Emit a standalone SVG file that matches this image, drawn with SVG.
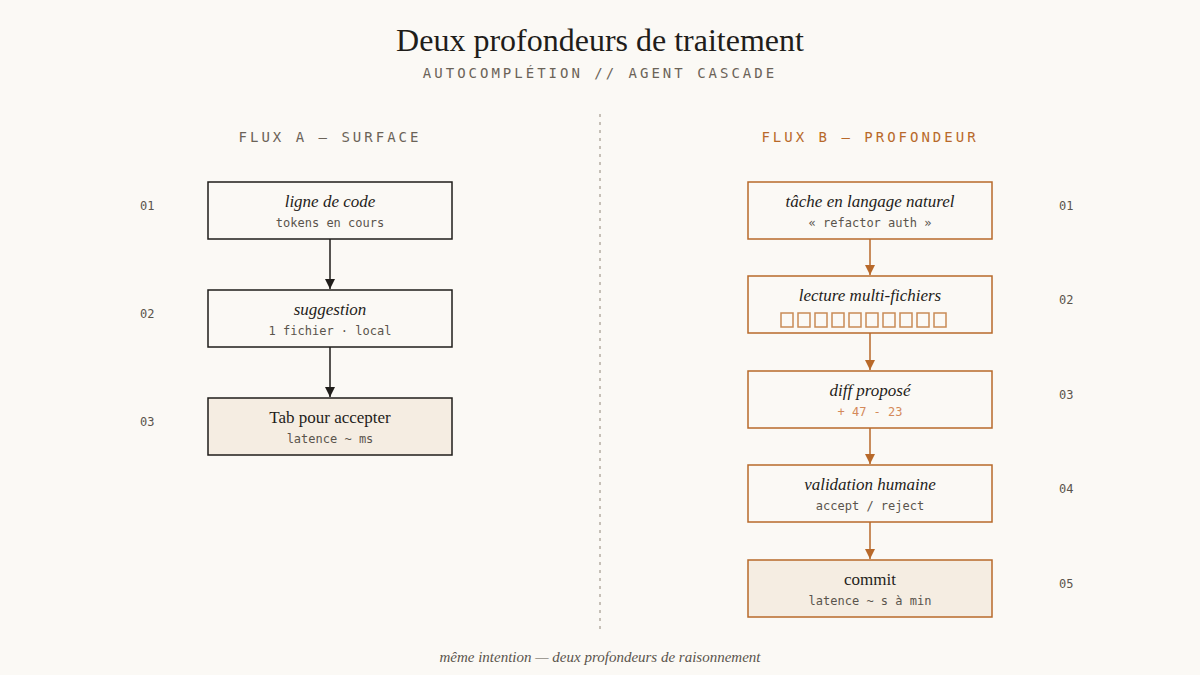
<svg xmlns="http://www.w3.org/2000/svg" width="1200" height="675" viewBox="0 0 1200 675">
<defs>
<marker id="ak" viewBox="0 0 10 10" refX="10" refY="5" markerWidth="10" markerHeight="10" markerUnits="userSpaceOnUse" orient="auto"><path d="M0,0L10,5L0,10z" fill="#1f1d1a"/></marker>
<marker id="ao" viewBox="0 0 10 10" refX="10" refY="5" markerWidth="10" markerHeight="10" markerUnits="userSpaceOnUse" orient="auto"><path d="M0,0L10,5L0,10z" fill="#b8692a"/></marker>
<style>
.t{font-family:"Liberation Serif",serif;fill:#1f1d1a}
.m{font-family:"DejaVu Sans Mono","Liberation Mono",monospace;font-size:12px;fill:#5a544c}
.h{font-family:"DejaVu Sans Mono","Liberation Mono",monospace;font-size:14px;letter-spacing:3px}
.n{font-family:"DejaVu Sans Mono","Liberation Mono",monospace;font-size:12px;fill:#5a544c}
.bk{fill:#fbf9f5;stroke:#1f1d1a;stroke-width:1.5}
.bo{fill:#fbf9f5;stroke:#b8692a;stroke-width:1.5}
.f{fill:#f5ede2}
.i{font-style:italic;font-size:17px}
</style>
</defs>
<rect width="1200" height="675" fill="#fbf9f5"/>
<text class="t" x="600" y="51" text-anchor="middle" font-size="32">Deux profondeurs de traitement</text>
<text class="h" x="600" y="78" text-anchor="middle" fill="#6b6358" font-size="13">AUTOCOMPLÉTION // AGENT CASCADE</text>
<line x1="600" y1="114" x2="600" y2="634" stroke="#b5ada2" stroke-width="1.5" stroke-dasharray="3,5"/>
<text class="h" x="330" y="142" text-anchor="middle" fill="#6b6358">FLUX A — SURFACE</text>
<text class="h" x="870" y="142" text-anchor="middle" fill="#b8692a">FLUX B — PROFONDEUR</text>
<g id="connectors">
<line x1="330" y1="239" x2="330" y2="289" stroke="#1f1d1a" stroke-width="1.5" marker-end="url(#ak)"/>
<line x1="330" y1="347" x2="330" y2="397" stroke="#1f1d1a" stroke-width="1.5" marker-end="url(#ak)"/>
<line x1="870" y1="239" x2="870" y2="275" stroke="#b8692a" stroke-width="1.5" marker-end="url(#ao)"/>
<line x1="870" y1="333" x2="870" y2="370" stroke="#b8692a" stroke-width="1.5" marker-end="url(#ao)"/>
<line x1="870" y1="428" x2="870" y2="464" stroke="#b8692a" stroke-width="1.5" marker-end="url(#ao)"/>
<line x1="870" y1="522" x2="870" y2="559" stroke="#b8692a" stroke-width="1.5" marker-end="url(#ao)"/>
</g>
<g id="a1"><rect class="bk" x="208" y="182" width="244" height="57"/><text class="t i" x="330" y="207" text-anchor="middle">ligne de code</text><text class="m" x="330" y="227" text-anchor="middle">tokens en cours</text><text class="n" x="140" y="210">01</text></g>
<g id="a2"><rect class="bk" x="208" y="290" width="244" height="57"/><text class="t i" x="330" y="315" text-anchor="middle">suggestion</text><text class="m" x="330" y="335" text-anchor="middle">1 fichier · local</text><text class="n" x="140" y="318">02</text></g>
<g id="a3"><rect class="bk f" x="208" y="398" width="244" height="57"/><text class="t" x="330" y="423" text-anchor="middle" font-size="17">Tab pour accepter</text><text class="m" x="330" y="443" text-anchor="middle">latence ~ ms</text><text class="n" x="140" y="426">03</text></g>
<g id="b1"><rect class="bo" x="748" y="182" width="244" height="57"/><text class="t i" x="870" y="207" text-anchor="middle">tâche en langage naturel</text><text class="m" x="870" y="227" text-anchor="middle">« refactor auth »</text><text class="n" x="1059" y="210">01</text></g>
<g id="b2"><rect class="bo" x="748" y="276" width="244" height="57"/><text class="t i" x="870" y="301" text-anchor="middle">lecture multi-fichiers</text>
<g fill="none" stroke="#c98a55" stroke-width="1.5"><rect x="781" y="313" width="12" height="14"/><rect x="798" y="313" width="12" height="14"/><rect x="815" y="313" width="12" height="14"/><rect x="832" y="313" width="12" height="14"/><rect x="849" y="313" width="12" height="14"/><rect x="866" y="313" width="12" height="14"/><rect x="883" y="313" width="12" height="14"/><rect x="900" y="313" width="12" height="14"/><rect x="917" y="313" width="12" height="14"/><rect x="934" y="313" width="12" height="14"/></g>
<text class="n" x="1059" y="304">02</text></g>
<g id="b3"><rect class="bo" x="748" y="371" width="244" height="57"/><text class="t i" x="870" y="396" text-anchor="middle">diff proposé</text><text class="m" x="870" y="416" text-anchor="middle" style="fill:#d4895a">+ 47  - 23</text><text class="n" x="1059" y="399">03</text></g>
<g id="b4"><rect class="bo" x="748" y="465" width="244" height="57"/><text class="t i" x="870" y="490" text-anchor="middle">validation humaine</text><text class="m" x="870" y="510" text-anchor="middle">accept / reject</text><text class="n" x="1059" y="493">04</text></g>
<g id="b5"><rect class="bo f" x="748" y="560" width="244" height="57"/><text class="t" x="870" y="585" text-anchor="middle" font-size="17">commit</text><text class="m" x="870" y="605" text-anchor="middle">latence ~ s à min</text><text class="n" x="1059" y="588">05</text></g>
<text class="t" x="600" y="662" text-anchor="middle" font-size="15" font-style="italic" fill="#5a544c" style="fill:#5a544c">même intention — deux profondeurs de raisonnement</text>
</svg>
